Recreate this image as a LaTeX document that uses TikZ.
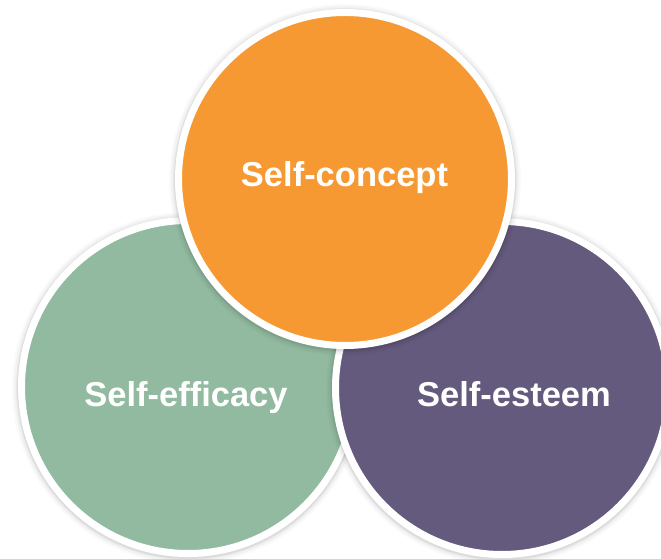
\documentclass[tikz,border=0pt]{standalone}
\usepackage{fontspec}
\setmainfont{Liberation Sans}
\definecolor{orangeC}{RGB}{247,153,50}
\definecolor{greenC}{RGB}{145,186,160}
\definecolor{purpleC}{RGB}{100,90,125}
\begin{document}
\begin{tikzpicture}[x=1pt,y=1pt,
  disc/.style={circle, draw=white, line width=7pt, minimum size=333pt, inner sep=0pt},
  lbl/.style={anchor=base, text=white, font=\fontsize{34.5}{40}\selectfont\bfseries, inner sep=0pt},
  glow/.pic={\foreach \r/\o in {176/0.02,174/0.03,172/0.04,171/0.05}{\fill[black,opacity=\o] (0,-1) circle (\r);}}]
\useasboundingbox (0,0) rectangle (661,559);
\fill[white] (0,0) rectangle (661,559);
\begin{scope}
\clip (0,0) rectangle (661,559);
\pic at (188,172) {glow};
\node[disc, fill=greenC] (eff) at (188,172) {};
\pic at (502,171) {glow};
\node[disc, fill=purpleC] (est) at (502,171) {};
\pic at (345,380) {glow};
\node[disc, fill=orangeC] (con) at (345,380) {};
\end{scope}
\node[lbl] (tcon) at (344.5,372) {Self-concept};
\node[lbl] (teff) at (186,152) {Self-efficacy};
\node[lbl] (test) at (514,152.5) {Self-esteem};
\end{tikzpicture}
\end{document}
